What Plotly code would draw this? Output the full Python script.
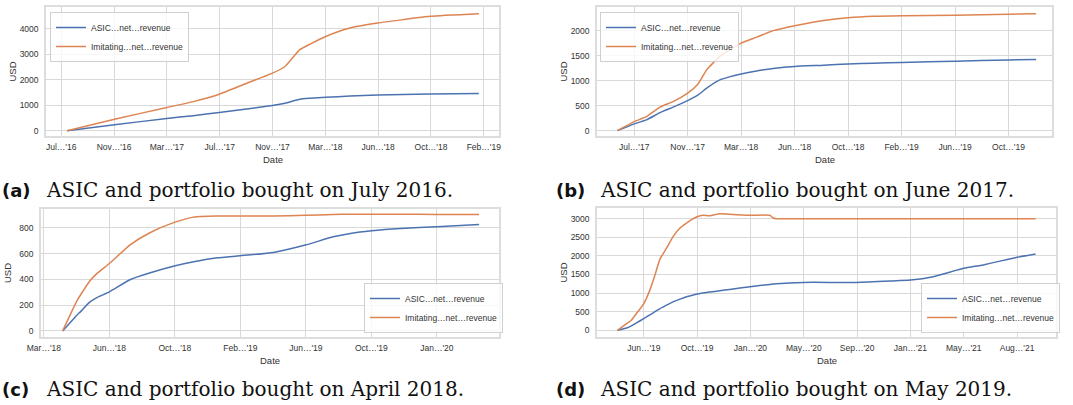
import pandas as pd
import plotly.graph_objects as go

# ---------------- data ----------------
series_names = ["ASIC…net…revenue", "Imitating…net…revenue"]

A_dates = ["2016-08-02", "2016-11-16", "2017-03-13", "2017-05-11", "2017-07-08", "2017-09-07",
           "2017-11-04", "2017-12-02", "2018-01-04", "2018-01-27", "2018-03-03", "2018-04-26",
           "2018-06-27", "2018-08-23", "2018-10-22", "2019-02-08"]
A_asic = [0, 230, 480, 590, 710, 850, 985, 1075, 1230, 1270, 1310, 1360, 1400, 1420, 1440, 1455]
A_imit = [0, 450, 910, 1140, 1430, 1860, 2260, 2520, 3180, 3400, 3700, 4030, 4225, 4360, 4490, 4590]

B_dates = ["2017-06-01", "2017-07-08", "2017-08-04", "2017-09-03", "2017-10-02", "2017-11-03",
           "2017-11-26", "2017-12-15", "2018-01-13", "2018-02-01", "2018-03-01", "2018-04-04",
           "2018-05-11", "2018-06-27", "2018-08-30", "2018-10-23", "2018-12-18", "2019-02-19",
           "2019-06-16", "2019-10-12", "2019-12-12"]
B_asic = [0, 135, 215, 360, 470, 600, 715, 850, 1015, 1070, 1135, 1195, 1245, 1285, 1310, 1335,
          1350, 1365, 1390, 1415, 1425]
B_imit = [0, 180, 280, 470, 580, 750, 935, 1215, 1485, 1600, 1750, 1870, 2000, 2100, 2205, 2260,
          2290, 2300, 2310, 2330, 2340]

C_dates = ["2018-04-07", "2018-05-02", "2018-05-08", "2018-05-25", "2018-06-06", "2018-06-28",
           "2018-08-04", "2018-09-08", "2018-10-20", "2018-11-23", "2019-01-03", "2019-02-12",
           "2019-04-12", "2019-06-07", "2019-07-26", "2019-08-25", "2019-10-01", "2019-11-21",
           "2020-01-24", "2020-04-07"]
C_asic = [0, 122, 148, 225, 259, 303, 399, 451, 503, 536, 567, 583, 609, 666, 730, 756, 777, 795,
          808, 826]
C_imit = [0, 233, 277, 390, 445, 523, 670, 764, 842, 883, 891, 891, 891, 897, 903, 906, 906, 905,
          904, 904]

D_dates = ["2019-04-17", "2019-05-07", "2019-05-17", "2019-05-28", "2019-06-13", "2019-06-26",
           "2019-07-07", "2019-07-18", "2019-08-01", "2019-08-15", "2019-08-30", "2019-09-13",
           "2019-09-24", "2019-10-06", "2019-10-19", "2019-11-02", "2019-11-24", "2019-12-15",
           "2020-01-28", "2020-03-11", "2020-03-18", "2020-03-25", "2020-05-22", "2020-09-14",
           "2020-11-25", "2021-01-08", "2021-02-26", "2021-05-03", "2021-06-14", "2021-08-26",
           "2021-10-05"]
D_asic = [0, 63, 117, 198, 315, 416, 500, 585, 675, 766, 838, 900, 937, 973, 1000, 1027, 1063,
          1100, 1171, 1234, 1243, 1252, 1288, 1288, 1324, 1351, 1441, 1667, 1757, 1964, 2054]
D_imit = [0, 180, 270, 450, 720, 1080, 1486, 1920, 2207, 2520, 2750, 2880, 2973, 3054, 3090, 3080,
          3135, 3117, 3090, 3090, 3018, 3000, 3000, 3000, 3000, 3000, 3000, 3000, 3000, 3000, 3000]

A_ticklabels = ["Jul…'16", "Nov…'16", "Mar…'17", "Jul…'17", "Nov…'17", "Mar…'18", "Jun…'18",
                "Oct…'18", "Feb…'19"]
B_ticklabels = ["Jul…'17", "Nov…'17", "Mar…'18", "Jun…'18", "Oct…'18", "Feb…'19", "Jun…'19",
                "Oct…'19"]
C_ticklabels = ["Mar…'18", "Jun…'18", "Oct…'18", "Feb…'19", "Jun…'19", "Oct…'19", "Jan…'20"]
D_ticklabels = ["Jun…'19", "Oct…'19", "Jan…'20", "May…'20", "Sep…'20", "Jan…'21", "May…'21",
                "Aug…'21"]

A_yticks = [0, 1000, 2000, 3000, 4000]
B_yticks = [0, 500, 1000, 1500, 2000]
C_yticks = [0, 200, 400, 600, 800]
D_yticks = [0, 500, 1000, 1500, 2000, 2500, 3000]

captions = [("(a)", "ASIC and portfolio bought on July 2016."),
            ("(b)", "ASIC and portfolio bought on June 2017."),
            ("(c)", "ASIC and portfolio bought on April 2018."),
            ("(d)", "ASIC and portfolio bought on May 2019.")]

# ---------------- layout helpers ----------------
W, H = 1073, 405
BLUE, ORANGE = "#4c72b0", "#dd8452"
TXT = "#333333"
FONT = "Liberation Sans"


def px_x(p):
    return p / W


def px_y(p):
    return 1 - p / H


panels = [
    dict(d=A_dates, a=A_asic, i=A_imit, t0="2016-07-20", step=118, tl=A_ticklabels,
         xr=(-34, 978), yt=A_yticks, yr=(-210, 4856), box=(46, 7, 499, 136)),
    dict(d=B_dates, a=B_asic, i=B_imit, t0="2017-07-08", step=118, tl=B_ticklabels,
         xr=(-82, 922), yt=B_yticks, yr=(-107, 2473), box=(597, 7, 1052, 136)),
    dict(d=C_dates, a=C_asic, i=C_imit, t0="2018-03-05", step=115, tl=C_ticklabels,
         xr=(-5, 799), yt=C_yticks, yr=(-47, 946), box=(41, 209, 499, 337)),
    dict(d=D_dates, a=D_asic, i=D_imit, t0="2019-06-13", step=115, tl=D_ticklabels,
         xr=(-101, 889), yt=D_yticks, yr=(-180, 3288), box=(597, 208, 1056, 337)),
]

legend_pos = [
    dict(x=px_x(50), y=px_y(12), xanchor="left", yanchor="top"),
    dict(x=px_x(600), y=px_y(12), xanchor="left", yanchor="top"),
    dict(x=px_x(503), y=px_y(333), xanchor="right", yanchor="bottom"),
    dict(x=px_x(1060), y=px_y(333), xanchor="right", yanchor="bottom"),
]

fig = go.Figure()
layout = dict(template="none", width=W, height=H, autosize=False,
              margin=dict(l=0, r=0, t=0, b=0, pad=0, autoexpand=False),
              paper_bgcolor="white", plot_bgcolor="white",
              font=dict(family=FONT, size=9, color=TXT))
annotations = []

for k, p in enumerate(panels):
    n = "" if k == 0 else str(k + 1)
    xa, ya = "x" + n, "y" + n
    lg = "legend" + n
    t0 = pd.Timestamp(p["t0"])
    tickvals = pd.date_range(t0, periods=len(p["tl"]), freq=f"{p['step']}D")
    xrange_ = [t0 + pd.Timedelta(days=p["xr"][0]), t0 + pd.Timedelta(days=p["xr"][1])]
    l, t, r, b = p["box"]

    for name, vals, col in [(series_names[0], p["a"], BLUE), (series_names[1], p["i"], ORANGE)]:
        fig.add_trace(go.Scatter(x=pd.to_datetime(p["d"]), y=vals, mode="lines", name=name,
                                 line=dict(color=col, width=1.5, shape="spline", smoothing=0.5),
                                 xaxis=xa, yaxis=ya, legend=lg))

    axis_common = dict(showline=True, mirror=True, linecolor="#dddddd", linewidth=1.5,
                       showgrid=True, gridcolor="#d9d9d9", gridwidth=1.2, zeroline=False,
                       automargin=False,
                       ticks="", tickfont=dict(family=FONT, size=8.5, color=TXT))
    layout["xaxis" + n] = dict(axis_common, domain=[px_x(l), px_x(r)], anchor=ya, type="date",
                               range=xrange_, tickmode="array", tickvals=list(tickvals),
                               ticktext=p["tl"], ticklabelstandoff=2)
    layout["yaxis" + n] = dict(axis_common, domain=[px_y(b), px_y(t)], anchor=xa,
                               range=list(p["yr"]), tickmode="array", tickvals=p["yt"],
                               ticktext=[str(v) for v in p["yt"]], ticklabelstandoff=4)
    layout[lg] = dict(legend_pos[k], bgcolor="rgba(255,255,255,0.8)", bordercolor="#d0d0d0",
                      borderwidth=1, font=dict(family=FONT, size=8.5, color=TXT),
                      itemwidth=30, tracegroupgap=0)

    # axis titles
    annotations.append(dict(text="Date", x=px_x((l + r) / 2), y=px_y(b + 23), xref="paper",
                            yref="paper", showarrow=False, xanchor="center", yanchor="middle",
                            font=dict(family=FONT, size=9.5, color=TXT)))
    annotations.append(dict(text="USD", x=px_x(l - 34), y=px_y((t + b) / 2), xref="paper",
                            yref="paper", showarrow=False, xanchor="center", yanchor="middle",
                            textangle=-90, font=dict(family=FONT, size=9.5, color=TXT)))

    # captions
    cx = 1 if k % 2 == 0 else 555
    cy = 190 if k < 2 else 389
    annotations.append(dict(text="<b>" + captions[k][0] + "</b>", x=px_x(cx), y=px_y(cy),
                            xref="paper", yref="paper", showarrow=False, xanchor="left",
                            yanchor="middle", align="left", borderpad=0,
                            font=dict(family="DejaVu Sans", size=18, color="#111111")))
    annotations.append(dict(text=captions[k][1], x=px_x(cx + 44), y=px_y(cy), xref="paper",
                            yref="paper", showarrow=False, xanchor="left", yanchor="middle",
                            align="left", borderpad=0,
                            font=dict(family="DejaVu Serif", size=20, color="#111111")))

layout["annotations"] = annotations
fig.update_layout(**layout)
fig.write_html("out.html")
